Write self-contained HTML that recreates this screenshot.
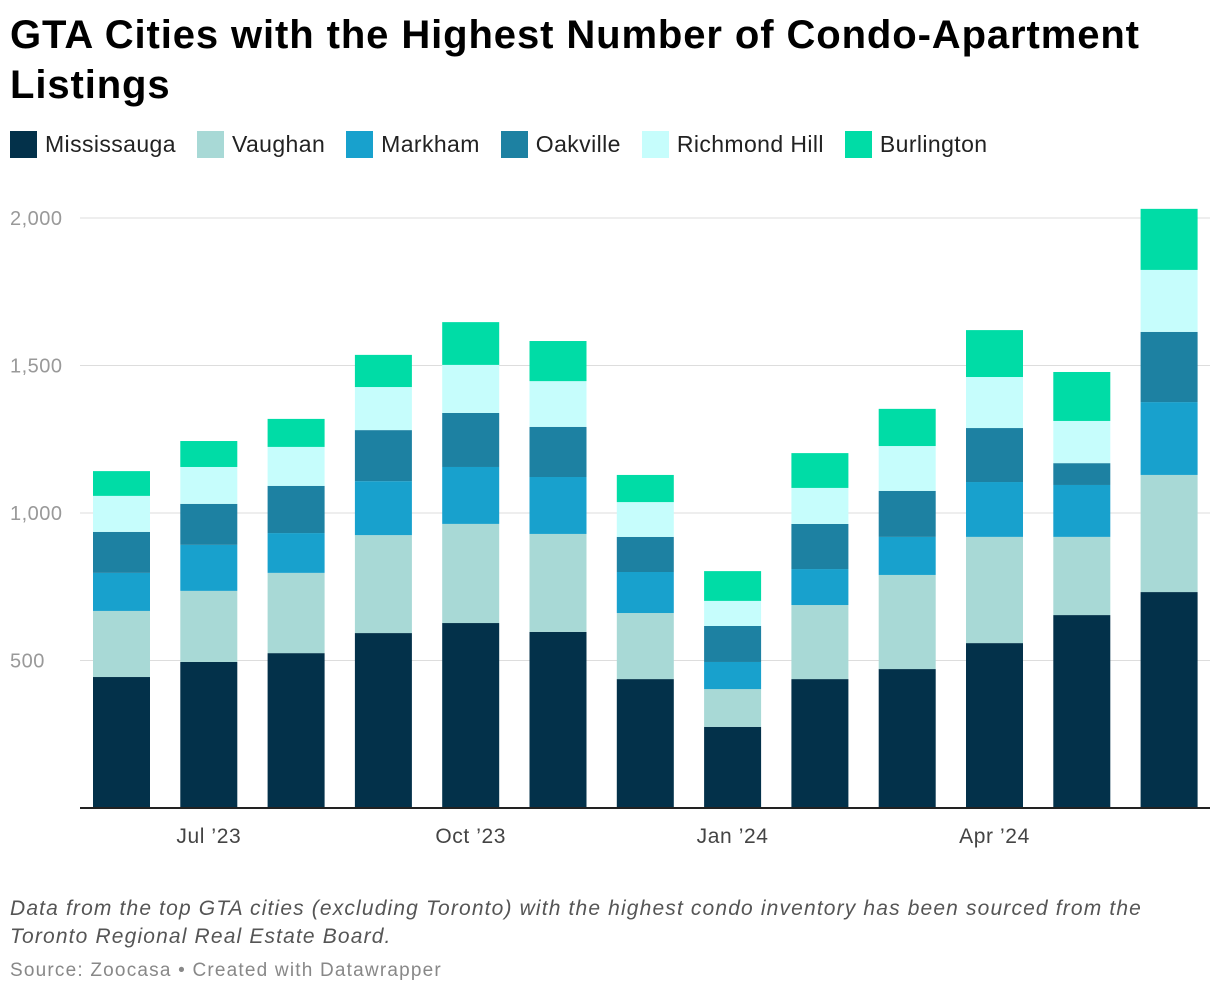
<!DOCTYPE html>
<html><head><meta charset="utf-8"><style>
body{margin:0;background:#fff;font-family:"Liberation Sans",Arial,sans-serif;}
#wrap{position:relative;width:1220px;height:998px;overflow:hidden}
h1{position:absolute;left:10px;top:10px;margin:0;font-size:40px;line-height:50px;font-weight:bold;color:#000;width:1210px;letter-spacing:0.9px}
.legend{position:absolute;left:10px;top:131px;display:flex;font-size:23px;color:#222;letter-spacing:0.4px}
.li{display:flex;align-items:center;margin-right:21px}
.sw{width:27px;height:27px;margin-right:8px}
.note{position:absolute;left:10px;top:895px;font-size:21px;font-style:italic;color:#555;line-height:28px;letter-spacing:1.15px}
.src{position:absolute;left:10px;top:960px;font-size:19px;color:#888;letter-spacing:1.2px}
</style></head><body><div id="wrap">
<h1>GTA Cities with the Highest Number of Condo-Apartment Listings</h1>
<div class="legend">
<div class="li"><div class="sw" style="background:#03314a"></div>Mississauga</div>
<div class="li"><div class="sw" style="background:#a8d9d6"></div>Vaughan</div>
<div class="li"><div class="sw" style="background:#18a1cd"></div>Markham</div>
<div class="li"><div class="sw" style="background:#1d81a2"></div>Oakville</div>
<div class="li"><div class="sw" style="background:#c6fdfc"></div>Richmond Hill</div>
<div class="li"><div class="sw" style="background:#00dca6"></div>Burlington</div>
</div>
<svg id="chart" width="1220" height="998" style="position:absolute;left:0;top:0"></svg>
<div class="note">Data from the top GTA cities (excluding Toronto) with the highest condo inventory has been sourced from the<br>Toronto Regional Real Estate Board.</div>
<div class="src">Source: Zoocasa • Created with Datawrapper</div>
</div>
<script>
const months=["Jun '23","Jul '23","Aug '23","Sep '23","Oct '23","Nov '23","Dec '23","Jan '24","Feb '24","Mar '24","Apr '24","May '24","Jun '24"];
const mississauga=[444,495,525,593,627,597,437,275,437,471,559,654,732];
const vaughan=[224,241,272,332,336,332,224,128,251,319,360,265,397];
const markham=[129,156,135,183,193,193,139,92,122,129,186,176,247];
const oakville=[139,139,160,173,183,170,119,122,153,156,183,74,238];
const richmondHill=[122,125,132,146,163,155,118,85,122,152,173,143,210];
const burlington=[84,88,95,109,145,136,92,101,118,126,159,166,207];
const yTicks=[500,1000,1500,2000];
const xTickLabels=["Jul \u201923","Oct \u201923","Jan \u201924","Apr \u201924"];
const xTickIdx=[1,4,7,10];
const series=[["mississauga",mississauga,"#03314a"],["vaughan",vaughan,"#a8d9d6"],["markham",markham,"#18a1cd"],["oakville",oakville,"#1d81a2"],["richmond-hill",richmondHill,"#c6fdfc"],["burlington",burlington,"#00dca6"]];
const svg=document.getElementById('chart');const NS="http://www.w3.org/2000/svg";
const y0=808,y1=218,left=80,right=1210,plotL=93,step=87.3,bw=57;
const y=v=>y0-(y0-y1)*v/2000;
const x=i=>plotL+i*step;
function mk(t,a){const e=document.createElementNS(NS,t);for(const k in a)e.setAttribute(k,a[k]);svg.appendChild(e);return e;}
yTicks.forEach(t=>{const g=mk('line',{x1:left,x2:right,y1:y(t),y2:y(t),stroke:'#ddd','stroke-width':1});


const l=mk('text',{x:10,y:y(t)+7,'font-size':20,fill:'#999','letter-spacing':'0.5','font-family':'Liberation Sans, sans-serif'});l.textContent=t.toLocaleString('en-US');

});
months.forEach((m,i)=>{let c=0;series.forEach(([n,arr,col])=>{const v=arr[i];const r=mk('rect',{x:x(i),y:y(c+v),width:bw,height:y(c)-y(c+v),fill:col});


c+=v;});});
mk('line',{x1:left,x2:right,y1:y0,y2:y0,stroke:'#222','stroke-width':2});
xTickIdx.forEach((idx,k)=>{const t=mk('text',{x:x(idx)+bw/2,y:843,'font-size':21,fill:'#444','text-anchor':'middle','letter-spacing':'0.6','font-family':'Liberation Sans, sans-serif'});t.textContent=xTickLabels[k];

});
</script></body></html>
